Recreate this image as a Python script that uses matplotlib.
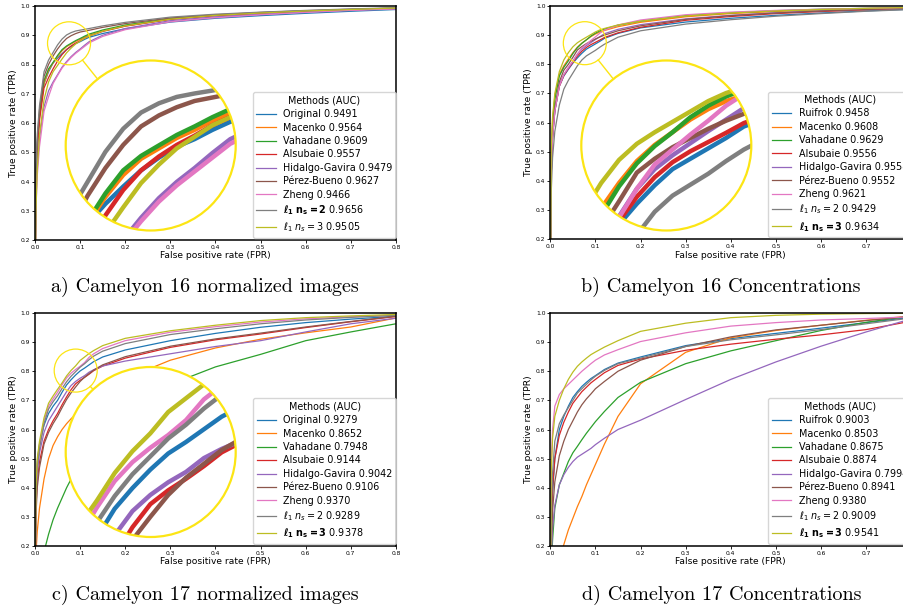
import matplotlib
matplotlib.use("Agg")
import matplotlib.pyplot as plt
from matplotlib.patches import Circle, Ellipse
from matplotlib.lines import Line2D
import numpy as np

# ---- data ---------------------------------------------------------------
names_norm = ["Original", "Macenko", "Vahadane", "Alsubaie", "Hidalgo-Gavira",
              "Pérez-Bueno", "Zheng"]
names_conc = ["Ruifrok", "Macenko", "Vahadane", "Alsubaie", "Hidalgo-Gavira",
              "Pérez-Bueno", "Zheng"]

auc_a = [0.9491, 0.9564, 0.9609, 0.9557, 0.9479, 0.9627, 0.9466, 0.9656, 0.9505]
auc_b = [0.9458, 0.9608, 0.9629, 0.9556, 0.9558, 0.9552, 0.9621, 0.9429, 0.9634]
auc_c = [0.9279, 0.8652, 0.7948, 0.9144, 0.9042, 0.9106, 0.9370, 0.9289, 0.9378]
auc_d = [0.9003, 0.8503, 0.8675, 0.8874, 0.7994, 0.8941, 0.9380, 0.9009, 0.9541]

fpr_ab = [0, 0.002, 0.005, 0.01, 0.02, 0.03, 0.04, 0.05, 0.06, 0.07, 0.08, 0.09,
          0.10, 0.11, 0.12, 0.15, 0.2, 0.3, 0.4, 0.5, 0.6, 0.7, 0.8]
fpr_c = [0, 0.002, 0.005, 0.01, 0.02, 0.03, 0.04, 0.05, 0.06, 0.07, 0.08, 0.09,
         0.10, 0.11, 0.12, 0.13, 0.15, 0.2, 0.3, 0.4, 0.5, 0.6, 0.7, 0.8]
fpr_d = [0, 0.002, 0.005, 0.01, 0.02, 0.03, 0.04, 0.05, 0.06, 0.07, 0.08, 0.09,
         0.10, 0.12, 0.15, 0.2, 0.3, 0.4, 0.5, 0.6, 0.7, 0.8]

# a) Camelyon 16 normalized images
a_original = [0.0, 0.40, 0.53, 0.63, 0.735, 0.775, 0.805, 0.822, 0.837, 0.851, 0.862, 0.8715, 0.878, 0.886, 0.893, 0.906, 0.922, 0.945, 0.958, 0.967, 0.975, 0.982, 0.988]
a_macenko = [0.0, 0.37, 0.51, 0.62, 0.735, 0.78, 0.805, 0.828, 0.847, 0.861, 0.870, 0.879, 0.886, 0.894, 0.900, 0.915, 0.932, 0.955, 0.967, 0.975, 0.982, 0.987, 0.992]
a_vahadane = [0.0, 0.38, 0.52, 0.63, 0.745, 0.785, 0.807, 0.831, 0.851, 0.8635, 0.8726, 0.8816, 0.889, 0.897, 0.904, 0.918, 0.935, 0.957, 0.969, 0.977, 0.983, 0.988, 0.993]
a_alsubaie = [0.0, 0.36, 0.50, 0.61, 0.72, 0.755, 0.785, 0.812, 0.834, 0.851, 0.863, 0.873, 0.881, 0.890, 0.897, 0.913, 0.931, 0.954, 0.967, 0.975, 0.982, 0.987, 0.992]
a_hidalgo = [0.0, 0.33, 0.45, 0.55, 0.655, 0.71, 0.74, 0.765, 0.791, 0.810, 0.827, 0.841, 0.853, 0.866, 0.878, 0.900, 0.923, 0.950, 0.963, 0.972, 0.980, 0.986, 0.991]
a_perez = [0.0, 0.40, 0.54, 0.645, 0.76, 0.80, 0.829, 0.853, 0.873, 0.889, 0.8985, 0.9056, 0.911, 0.914, 0.917, 0.927, 0.940, 0.959, 0.970, 0.978, 0.984, 0.989, 0.993]
a_zheng = [0.0, 0.30, 0.42, 0.52, 0.64, 0.69, 0.735, 0.762, 0.788, 0.807, 0.824, 0.838, 0.850, 0.862, 0.874, 0.896, 0.919, 0.946, 0.960, 0.970, 0.978, 0.985, 0.990]
a_l1ns2 = [0.0, 0.42, 0.56, 0.66, 0.775, 0.815, 0.841, 0.867, 0.887, 0.901, 0.909, 0.9145, 0.9175, 0.920, 0.923, 0.932, 0.944, 0.962, 0.972, 0.979, 0.985, 0.990, 0.994]
a_l1ns3 = [0.0, 0.30, 0.44, 0.56, 0.68, 0.74, 0.775, 0.797, 0.819, 0.840, 0.856, 0.870, 0.880, 0.890, 0.897, 0.914, 0.932, 0.955, 0.968, 0.976, 0.983, 0.988, 0.993]

# b) Camelyon 16 concentrations
b_ruifrok = [0.0, 0.42, 0.55, 0.64, 0.725, 0.76, 0.783, 0.804, 0.822, 0.838, 0.852, 0.861, 0.870, 0.879, 0.889, 0.906, 0.925, 0.945, 0.958, 0.968, 0.976, 0.983, 0.989]
b_macenko = [0.0, 0.49, 0.61, 0.69, 0.765, 0.795, 0.818, 0.840, 0.859, 0.873, 0.884, 0.895, 0.904, 0.911, 0.916, 0.929, 0.944, 0.963, 0.974, 0.981, 0.987, 0.991, 0.994]
b_vahadane = [0.0, 0.46, 0.59, 0.68, 0.76, 0.79, 0.812, 0.837, 0.857, 0.872, 0.884, 0.897, 0.907, 0.915, 0.921, 0.934, 0.948, 0.967, 0.977, 0.984, 0.989, 0.992, 0.995]
b_alsubaie = [0.0, 0.42, 0.55, 0.64, 0.725, 0.762, 0.785, 0.807, 0.828, 0.845, 0.858, 0.8675, 0.8755, 0.8835, 0.892, 0.908, 0.927, 0.951, 0.964, 0.974, 0.981, 0.987, 0.992]
b_hidalgo = [0.0, 0.42, 0.55, 0.64, 0.73, 0.765, 0.787, 0.811, 0.835, 0.852, 0.864, 0.8745, 0.885, 0.895, 0.905, 0.920, 0.936, 0.956, 0.968, 0.977, 0.984, 0.989, 0.993]
b_perez = [0.0, 0.43, 0.56, 0.65, 0.74, 0.78, 0.80, 0.824, 0.849, 0.861, 0.871, 0.879, 0.887, 0.894, 0.900, 0.915, 0.932, 0.954, 0.967, 0.976, 0.983, 0.988, 0.993]
b_zheng = [0.0, 0.42, 0.55, 0.64, 0.725, 0.765, 0.790, 0.810, 0.835, 0.856, 0.869, 0.882, 0.894, 0.907, 0.917, 0.935, 0.952, 0.970, 0.979, 0.985, 0.989, 0.992, 0.995]
b_l1ns2 = [0.0, 0.36, 0.48, 0.57, 0.66, 0.715, 0.745, 0.770, 0.795, 0.815, 0.829, 0.8385, 0.848, 0.859, 0.869, 0.893, 0.915, 0.938, 0.953, 0.965, 0.974, 0.982, 0.988]
b_l1ns3 = [0.0, 0.50, 0.62, 0.70, 0.775, 0.815, 0.840, 0.860, 0.874, 0.884, 0.893, 0.902, 0.911, 0.918, 0.923, 0.935, 0.948, 0.966, 0.976, 0.983, 0.988, 0.992, 0.995]

# c) Camelyon 17 normalized images
c_original = [0.0, 0.40, 0.49, 0.55, 0.615, 0.655, 0.68, 0.70, 0.728, 0.753, 0.771, 0.787, 0.801, 0.811, 0.822, 0.833, 0.849, 0.873, 0.905, 0.930, 0.951, 0.967, 0.979, 0.989]
c_macenko = [0.0, 0.17, 0.25, 0.33, 0.43, 0.50, 0.545, 0.575, 0.60, 0.62, 0.637, 0.652, 0.666, 0.68, 0.693, 0.705, 0.728, 0.775, 0.838, 0.880, 0.910, 0.932, 0.952, 0.983]
c_vahadane = [0.0, 0.02, 0.06, 0.11, 0.18, 0.24, 0.29, 0.33, 0.365, 0.40, 0.43, 0.455, 0.48, 0.50, 0.52, 0.54, 0.575, 0.645, 0.755, 0.815, 0.858, 0.905, 0.935, 0.963]
c_alsubaie = [0.0, 0.33, 0.42, 0.49, 0.56, 0.60, 0.63, 0.655, 0.685, 0.712, 0.737, 0.757, 0.769, 0.779, 0.790, 0.802, 0.818, 0.845, 0.882, 0.908, 0.928, 0.950, 0.970, 0.988]
c_hidalgo = [0.0, 0.35, 0.45, 0.52, 0.59, 0.63, 0.655, 0.68, 0.705, 0.730, 0.751, 0.765, 0.776, 0.785, 0.797, 0.805, 0.818, 0.835, 0.860, 0.885, 0.905, 0.935, 0.963, 0.982]
c_perez = [0.0, 0.30, 0.40, 0.47, 0.55, 0.59, 0.62, 0.645, 0.675, 0.703, 0.726, 0.746, 0.765, 0.780, 0.792, 0.804, 0.822, 0.850, 0.886, 0.911, 0.931, 0.952, 0.971, 0.989]
c_zheng = [0.0, 0.38, 0.48, 0.545, 0.63, 0.68, 0.705, 0.728, 0.754, 0.777, 0.7935, 0.806, 0.817, 0.830, 0.848, 0.860, 0.878, 0.905, 0.934, 0.953, 0.969, 0.980, 0.987, 0.993]
c_l1ns2 = [0.0, 0.37, 0.47, 0.535, 0.62, 0.67, 0.695, 0.716, 0.741, 0.764, 0.783, 0.7985, 0.814, 0.826, 0.840, 0.852, 0.869, 0.895, 0.926, 0.946, 0.963, 0.976, 0.985, 0.992]
c_l1ns3 = [0.0, 0.40, 0.50, 0.56, 0.64, 0.69, 0.715, 0.738, 0.760, 0.784, 0.803, 0.8185, 0.837, 0.849, 0.861, 0.871, 0.888, 0.913, 0.939, 0.958, 0.974, 0.984, 0.990, 0.995]

# d) Camelyon 17 concentrations
d_ruifrok = [0.0, 0.22, 0.38, 0.50, 0.60, 0.645, 0.68, 0.71, 0.73, 0.748, 0.762, 0.775, 0.785, 0.806, 0.828, 0.849, 0.888, 0.912, 0.930, 0.948, 0.967, 0.985]
d_macenko = [0.0, 0.02, 0.05, 0.09, 0.15, 0.205, 0.255, 0.295, 0.335, 0.37, 0.41, 0.445, 0.48, 0.55, 0.645, 0.757, 0.865, 0.915, 0.94, 0.958, 0.975, 0.99]
d_vahadane = [0.0, 0.12, 0.22, 0.33, 0.41, 0.45, 0.49, 0.52, 0.542, 0.565, 0.587, 0.607, 0.627, 0.662, 0.71, 0.762, 0.826, 0.87, 0.905, 0.94, 0.968, 0.99]
d_alsubaie = [0.0, 0.25, 0.40, 0.50, 0.58, 0.625, 0.66, 0.69, 0.71, 0.73, 0.745, 0.76, 0.772, 0.795, 0.82, 0.842, 0.872, 0.893, 0.91, 0.925, 0.943, 0.972]
d_hidalgo = [0.0, 0.15, 0.26, 0.34, 0.41, 0.445, 0.47, 0.49, 0.505, 0.515, 0.525, 0.535, 0.548, 0.57, 0.60, 0.632, 0.703, 0.772, 0.832, 0.886, 0.935, 0.98]
d_perez = [0.0, 0.20, 0.32, 0.42, 0.51, 0.56, 0.60, 0.63, 0.66, 0.685, 0.705, 0.722, 0.74, 0.765, 0.80, 0.838, 0.885, 0.918, 0.942, 0.958, 0.974, 0.988]
d_zheng = [0.0, 0.48, 0.60, 0.68, 0.72, 0.74, 0.755, 0.77, 0.785, 0.80, 0.813, 0.826, 0.838, 0.856, 0.874, 0.902, 0.932, 0.955, 0.967, 0.976, 0.981, 0.987]
d_l1ns2 = [0.0, 0.30, 0.45, 0.56, 0.62, 0.65, 0.675, 0.70, 0.725, 0.74, 0.755, 0.77, 0.783, 0.803, 0.826, 0.845, 0.885, 0.908, 0.925, 0.943, 0.963, 0.983]
d_l1ns3 = [0.0, 0.45, 0.57, 0.645, 0.70, 0.74, 0.772, 0.797, 0.817, 0.832, 0.845, 0.857, 0.866, 0.883, 0.905, 0.937, 0.965, 0.984, 0.992, 0.996, 0.998, 0.999]

captions = ["a) Camelyon 16 normalized images", "b) Camelyon 16 Concentrations",
            "c) Camelyon 17 normalized images", "d) Camelyon 17 Concentrations"]

# ---- styling ------------------------------------------------------------
COLORS = ["#1f77b4", "#ff7f0e", "#2ca02c", "#d62728", "#9467bd",
          "#8c564b", "#e377c2", "#7f7f7f", "#bcbd22"]
YEL = "#fce514"
W, H = 904, 608

fig = plt.figure(figsize=(W / 100, H / 100), dpi=100)


def px_axes(left, top, right, bottom):
    return fig.add_axes([left / W, 1 - bottom / H, (right - left) / W, (bottom - top) / H])


def make_labels(names, aucs, bold_idx):
    ns = [r"$\ell_1$ $n_s=2$", r"$\ell_1$ $n_s=3$"]
    ns_bold = [r"$\mathbf{\ell_1\ n_s=2}$", r"$\mathbf{\ell_1\ n_s=3}$"]
    full = list(names) + ns
    full[bold_idx] = ns_bold[bold_idx - 7]
    return ["%s %.4f" % (n, a) for n, a in zip(full, aucs)]


def draw_panel(ax, fpr, curves, labels):
    for tpr, lab, col in zip(curves, labels, COLORS):
        ax.plot(fpr, tpr, color=col, lw=0.9, label=lab)
    ax.set_xlim(0, 0.8)
    ax.set_ylim(0.2, 1.0)
    ax.set_xlabel("False positive rate (FPR)", fontsize=6.6, labelpad=1)
    ax.set_ylabel("True positive rate (TPR)", fontsize=6.6, labelpad=2)
    ax.tick_params(labelsize=4.3, length=2, width=0.6, pad=1.5)
    for s in ax.spines.values():
        s.set_linewidth(1.1)
    ax.legend(title="Methods (AUC)", loc="lower right", fontsize=6.9,
              title_fontsize=6.9, bbox_to_anchor=(1.0, 0.01),
              borderaxespad=0, labelspacing=0.36, borderpad=0.35)


def add_zoom(ax, fpr, curves, center, r_small, big_c, r_big):
    cx, cy = center
    p = ax.transData.transform((cx, cy))
    q = ax.transData.inverted().transform((p[0] + r_small, p[1] + r_small))
    rx, ry = q[0] - cx, q[1] - cy
    ax.add_patch(Ellipse((cx, cy), 2 * rx, 2 * ry, fill=False, ec=YEL, lw=0.9, zorder=5))

    bx, by = big_c
    ins = fig.add_axes([(bx - r_big) / W, 1 - (by + r_big) / H, 2 * r_big / W, 2 * r_big / H])
    ins.set_xlim(cx - rx, cx + rx)
    ins.set_ylim(cy - ry, cy + ry)
    ins.set_axis_off()
    ins.add_patch(Circle((0.5, 0.5), 0.5, transform=ins.transAxes, fc="white", ec="none", zorder=0))
    clip = Circle((0.5, 0.5), 0.5, transform=ins.transAxes)
    for tpr, col in zip(curves, COLORS):
        ln, = ins.plot(fpr, tpr, color=col, lw=3.2, solid_capstyle="butt")
        ln.set_clip_path(clip)
    ins.add_patch(Circle((0.5, 0.5), 0.5, transform=ins.transAxes, fill=False,
                         ec=YEL, lw=1.6, zorder=10, clip_on=False))

    # connector between the two circles (display pixels -> figure fraction)
    big = np.array([bx, H - by])
    d = big - p
    d = d / np.hypot(*d)
    s = p + d * r_small
    e = big - d * r_big
    fig.add_artist(Line2D([s[0] / W, e[0] / W], [s[1] / H, e[1] / H],
                          transform=fig.transFigure, color=YEL, lw=1.0))


panels = [
    ((35, 6, 396, 240), fpr_ab,
     [a_original, a_macenko, a_vahadane, a_alsubaie, a_hidalgo, a_perez, a_zheng, a_l1ns2, a_l1ns3],
     make_labels(names_norm, auc_a, 7), (0.0754, 0.8725), (150.7, 145.5)),
    ((550.3, 6, 911.3, 239.3), fpr_ab,
     [b_ruifrok, b_macenko, b_vahadane, b_alsubaie, b_hidalgo, b_perez, b_zheng, b_l1ns2, b_l1ns3],
     make_labels(names_conc, auc_b, 8), (0.0765, 0.8725), (666.3, 145.5)),
    ((35, 313, 396, 546), fpr_c,
     [c_original, c_macenko, c_vahadane, c_alsubaie, c_hidalgo, c_perez, c_zheng, c_l1ns2, c_l1ns3],
     make_labels(names_norm, auc_c, 8), (0.0902, 0.8023), (150.7, 452.0)),
    ((550.3, 313, 911.3, 546), fpr_d,
     [d_ruifrok, d_macenko, d_vahadane, d_alsubaie, d_hidalgo, d_perez, d_zheng, d_l1ns2, d_l1ns3],
     make_labels(names_conc, auc_d, 8), None, None),
]

for box, fpr, curves, labels, zc, bc in panels:
    ax = px_axes(*box)
    draw_panel(ax, fpr, curves, labels)
    if zc is not None:
        add_zoom(ax, fpr, curves, zc, 21.5, bc, 85)

cap_pos = [(205, 287), (721, 287), (205, 595), (722, 595)]
for txt, (x, y) in zip(captions, cap_pos):
    fig.text(x / W, 1 - y / H, txt, ha="center", va="center", family="cmr10", fontsize=14.5)

fig.savefig("out.png", dpi=100)
